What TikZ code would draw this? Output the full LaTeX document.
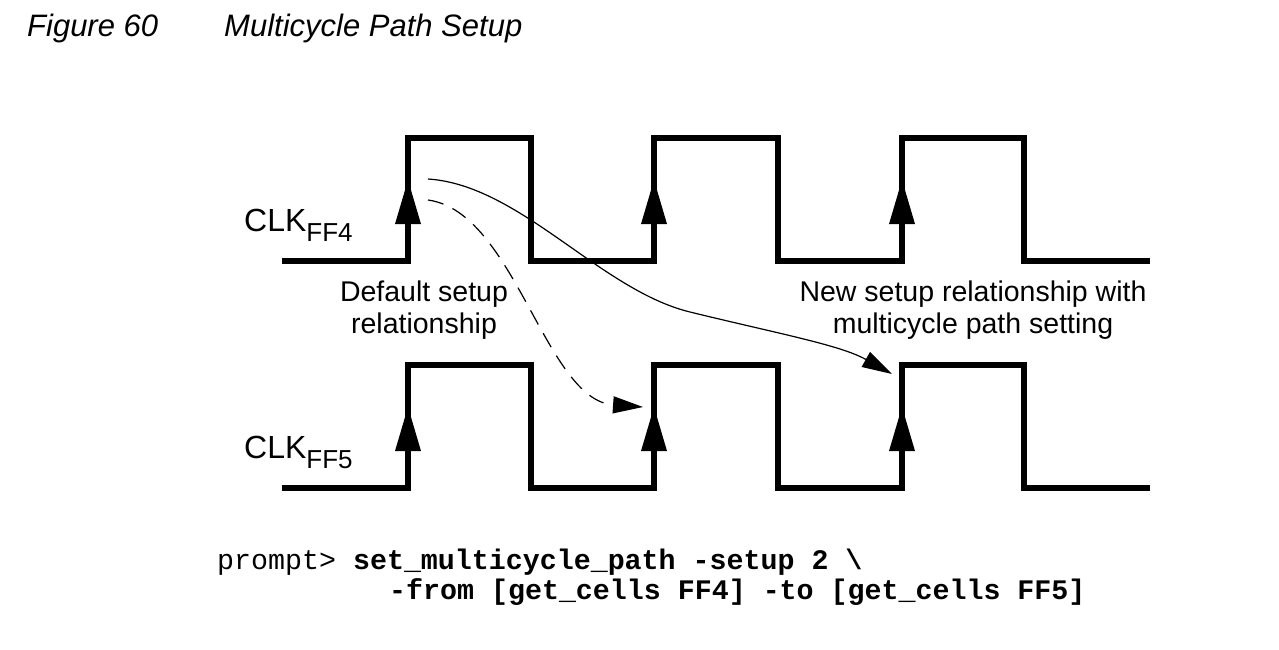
\documentclass[tikz,border=0pt]{standalone}
\usepackage{fontspec}
\setmainfont{Liberation Sans}
\setmonofont{Liberation Mono}
\usetikzlibrary{arrows.meta}
\begin{document}
\begin{tikzpicture}[x=1pt,y=-1pt,
  wave/.style={line width=5.5pt, line join=miter, line cap=butt},
  edgetri/.style={fill=black, draw=none},
  conn/.style={line width=1.2pt, -{Triangle[length=30pt,width=17pt]}},
  lbl/.style={font=\fontsize{28.5}{32}\selectfont, align=center, inner sep=0pt},
  clk/.style={font=\fontsize{32}{36}\selectfont, inner sep=0pt, anchor=base west},
  code/.style={font=\fontsize{28.3}{30}\selectfont\ttfamily, inner sep=0pt, anchor=base west},
  title/.style={font=\fontsize{31}{34}\selectfont\itshape, inner sep=0pt, anchor=base west},
]
\useasboundingbox (0,0) rectangle (1279,649);
% title
\node[title] (fig) at (27,36) {Figure 60};
\node[title] (cap) at (224,36) {Multicycle Path Setup};
% clock waveforms
\foreach \name/\lo/\hi in {ff4/261/138, ff5/488/365}{
  \draw[wave] (282,\lo) -- (408,\lo) -- (408,\hi) -- (531,\hi) -- (531,\lo)
    -- (654,\lo) -- (654,\hi) -- (778,\hi) -- (778,\lo)
    -- (902,\lo) -- (902,\hi) -- (1024,\hi) -- (1024,\lo) -- (1150,\lo);
  \foreach \x [count=\i] in {408,654,902}{
    \coordinate (\name tip\i) at (\x,\hi+42);
    \fill[edgetri] (\name tip\i) -- ++(13,44) -- ++(-26,0) -- cycle;
  }
}
% labels
\node[clk] (l4) at (244,231) {CLK\raisebox{-10pt}{\fontsize{26}{28}\selectfont FF4}};
\node[clk] (l5) at (244,458) {CLK\raisebox{-10pt}{\fontsize{26}{28}\selectfont FF5}};
\node[lbl, anchor=base] (dflt) at (424,333) {Default setup\\relationship};
\node[lbl, anchor=base] (new) at (973,333) {New setup relationship with\\multicycle path setting};
% connectors
\coordinate (s1) at (428,179);
\coordinate (s2) at (428,200);
\coordinate (m1) at (690,312);
\coordinate (e1) at (892,374);
\coordinate (e2) at (643,407);
\draw[conn] (s1) .. controls (520,185) and (600,290) .. (m1)
  .. controls (780,334) and (840,345) .. (e1);
\draw[conn, dash pattern=on 16pt off 10pt] (s2) .. controls (515,212) and (545,400) .. (e2);
% command
\node[code] (c1) at (217,569) {prompt> \textbf{set\_multicycle\_path -setup 2 \textbackslash}};
\node[code] (c2) at (389,599) {\textbf{-from [get\_cells FF4] -to [get\_cells FF5]}};
\end{tikzpicture}
\end{document}
